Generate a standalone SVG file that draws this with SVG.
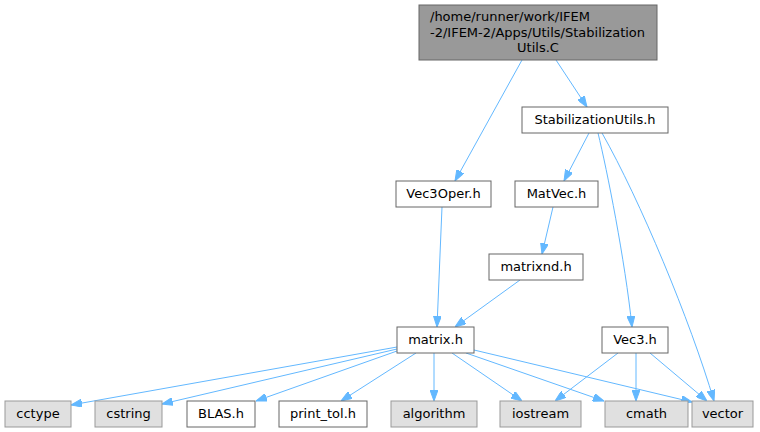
<svg xmlns="http://www.w3.org/2000/svg" width="760" height="432" viewBox="0 0 760 432">
<style>
.n rect{fill:#fff;stroke:#666;stroke-width:1}
.s rect{fill:#e0e0e0;stroke:#999;stroke-width:1}
.r rect{fill:#999;stroke:#666;stroke-width:1}
text{font-family:"DejaVu Sans",sans-serif;font-size:13px;fill:#000;text-anchor:middle}
text.l{text-anchor:start}
.e path{fill:none;stroke:#63b8ff;stroke-width:1;marker-end:url(#a)}
</style>
<defs>
<marker id="a" viewBox="0 0 11 8" refX="11" refY="4" markerWidth="11" markerHeight="8" orient="auto" markerUnits="userSpaceOnUse"><path d="M0,0 L11,4 L0,8z" fill="#63b8ff" stroke="#63b8ff"/></marker>
</defs>
<rect width="760" height="432" fill="#fff"/>
<g class="e" id="edges">
<path d="M522,60 L455,181"/>
<path d="M556,60 L587,107"/>
<path d="M589,133 L564,181"/>
<path d="M598,133 C607,170 625,260 632,327"/>
<path d="M602,133 C640,200 690,320 714,401"/>
<path d="M442,207 L437,327"/>
<path d="M553,207 L542,254"/>
<path d="M520,280 L455,327"/>
<path d="M397,347 L71,405"/>
<path d="M397,349 L162,404"/>
<path d="M397,351 L256,401"/>
<path d="M416,353 L341,401"/>
<path d="M434,353 L434,401"/>
<path d="M452,353 L522,401"/>
<path d="M466,353 L604,401"/>
<path d="M474,350 L692,402"/>
<path d="M618,353 L555,401"/>
<path d="M636,353 L636,401"/>
<path d="M650,353 L707,401"/>
</g>
<g id="root" class="r"><rect x="419" y="5" width="238" height="55"/><text class="l" x="430" y="21">/home/runner/work/IFEM</text><text class="l" x="430" y="36.5">-2/IFEM-2/Apps/Utils/Stabilization</text><text x="538" y="52">Utils.C</text></g>
<g id="StabilizationUtils_h" class="n"><rect x="522" y="107" width="146" height="26"/><text x="595" y="124">StabilizationUtils.h</text></g>
<g id="Vec3Oper_h" class="n"><rect x="396" y="181" width="95" height="26"/><text x="443.5" y="198">Vec3Oper.h</text></g>
<g id="MatVec_h" class="n"><rect x="515" y="181" width="83" height="26"/><text x="556.5" y="198">MatVec.h</text></g>
<g id="matrixnd_h" class="n"><rect x="489" y="254" width="94" height="26"/><text x="536" y="271">matrixnd.h</text></g>
<g id="matrix_h" class="n"><rect x="397" y="327" width="77" height="26"/><text x="435.5" y="344">matrix.h</text></g>
<g id="Vec3_h" class="n"><rect x="602" y="327" width="66" height="26"/><text x="635" y="344">Vec3.h</text></g>
<g id="cctype" class="s"><rect x="5" y="401" width="66" height="26"/><text x="38" y="418">cctype</text></g>
<g id="cstring" class="s"><rect x="95" y="401" width="67" height="26"/><text x="128.5" y="418">cstring</text></g>
<g id="BLAS_h" class="n"><rect x="187" y="401" width="68" height="26"/><text x="221" y="418">BLAS.h</text></g>
<g id="print_tol_h" class="n"><rect x="279" y="401" width="88" height="26"/><text x="323" y="418">print_tol.h</text></g>
<g id="algorithm" class="s"><rect x="391" y="401" width="86" height="26"/><text x="434" y="418">algorithm</text></g>
<g id="iostream" class="s"><rect x="500" y="401" width="81" height="26"/><text x="540.5" y="418">iostream</text></g>
<g id="cmath" class="s"><rect x="605" y="401" width="83" height="26"/><text x="646.5" y="418">cmath</text></g>
<g id="vector" class="s"><rect x="692" y="401" width="61" height="26"/><text x="722.5" y="418">vector</text></g>
</svg>
